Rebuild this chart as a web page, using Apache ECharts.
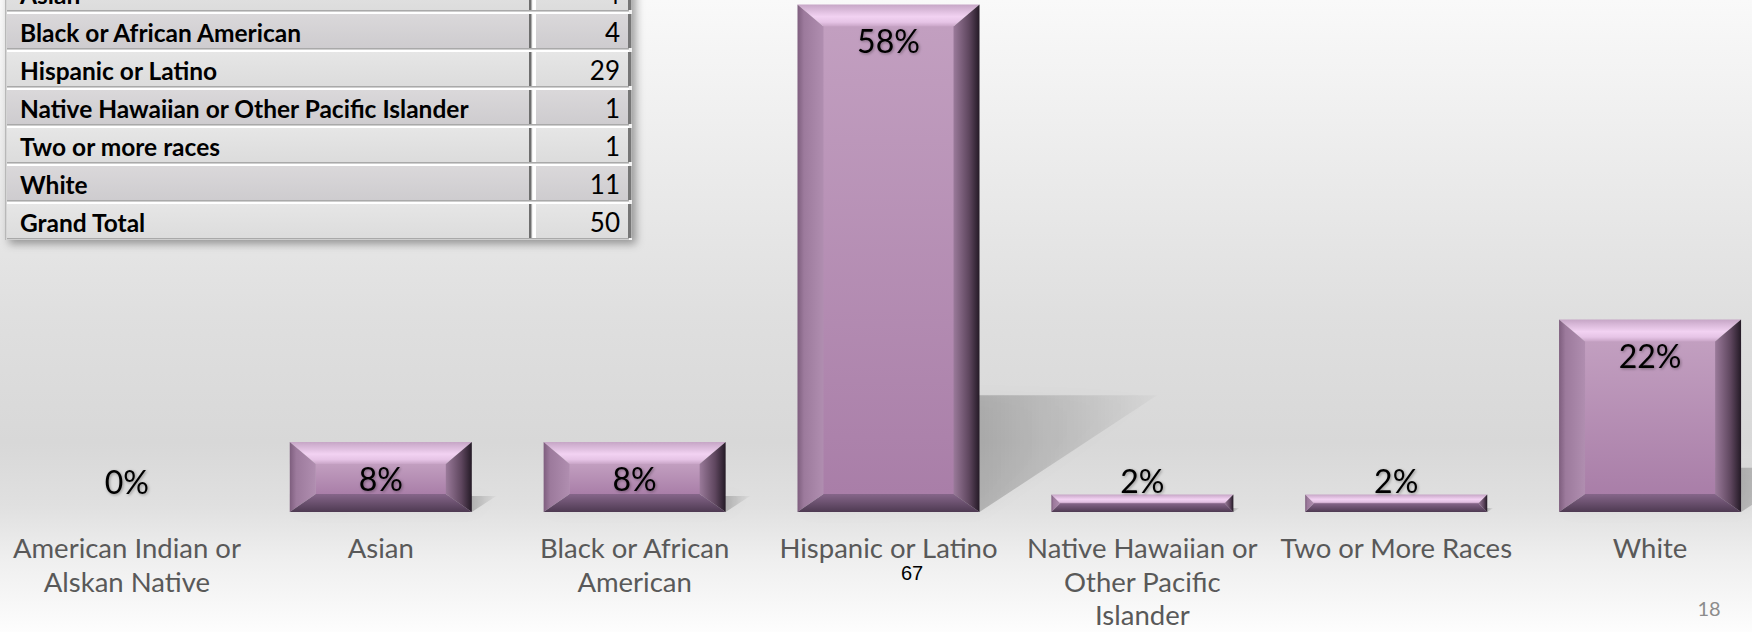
<!DOCTYPE html>
<html>
<head>
<meta charset="utf-8">
<script src="https://cdn.jsdelivr.net/npm/echarts@6/dist/echarts.min.js"></script>
<style>
  html, body { margin: 0; padding: 0; width: 1752px; height: 632px; overflow: hidden; background: #fff; }
  #main { width: 1752px; height: 632px; }
</style>
</head>
<body>
<div id="main"></div>
<script>
// Student population by race / ethnicity
const categories = [
  'American Indian or\nAlskan Native',
  'Asian',
  'Black or African\nAmerican',
  'Hispanic or Latino',
  'Native Hawaiian or\nOther Pacific\nIslander',
  'Two or More Races',
  'White'
];
const sharePct = [0, 8, 8, 58, 2, 2, 22];

// Count table shown in the upper left
const tableLabels = [
  'Asian',
  'Black or African American',
  'Hispanic or Latino',
  'Native Hawaiian or Other Pacific Islander',
  'Two or more races',
  'White',
  'Grand Total'
];
const tableCounts = [4, 4, 29, 1, 1, 11, 50];

const footNote = '67';
const pageNumber = '18';

const FONT = 'Lato, "Open Sans", "Noto Sans", sans-serif';

function lin(x, y, x2, y2, stops) {
  return { type: 'linear', x: x, y: y, x2: x2, y2: y2,
    colorStops: stops.map(s => ({ offset: s[0], color: s[1] })) };
}

// Bevelled purple bar with a cast shadow and its percentage label
function renderBar(params, api) {
  const i = api.value(0);
  const v = api.value(1);
  const top = api.coord([i, v]);
  const base = api.coord([i, 0]);
  const bw = api.size([1, 0])[0] * 0.717;
  const L = base[0] - bw / 2, R = base[0] + bw / 2;
  const B = base[1], T = top[1];
  const h = B - T;
  const kids = [];

  if (h > 0.5) {
    const sx = h * 0.35, sy = h * 0.23;
    const frac = bw / (bw + sx);
    kids.push({
      type: 'polygon',
      shape: { points: [[L, B], [R, B], [R + sx, B - sy], [L + sx, B - sy]] },
      style: {
        fill: lin(0, 0, 1, 0, [[0, 'rgba(0,0,0,0.22)'], [frac, 'rgba(0,0,0,0.2)'], [1, 'rgba(0,0,0,0.02)']]),
        shadowBlur: 16, shadowColor: 'rgba(0,0,0,0.12)'
      },
      z2: 0
    });

    const s = Math.min(26, h / 2), t = Math.min(22, h / 2), b = Math.min(18, h / 2);
    // front face
    kids.push({
      type: 'rect',
      shape: { x: L + s - 0.5, y: T + t - 0.5, width: bw - 2 * s + 1, height: Math.max(0, h - t - b) + 1 },
      style: { fill: lin(0, 0, 0, 1, [[0, '#c29fc0'], [1, '#a97ea8']]) },
      z2: 1
    });
    // top bevel
    kids.push({
      type: 'polygon',
      shape: { points: [[L, T], [R, T], [R - s, T + t], [L + s, T + t]] },
      style: { fill: lin(0, 0, 0, 1, [[0, '#c6a6c6'], [0.55, '#f2d2f2'], [0.8, '#e6c4e6'], [1, '#c9a5c7']]) },
      z2: 2
    });
    // left bevel
    kids.push({
      type: 'polygon',
      shape: { points: [[L, T], [L + s, T + t], [L + s, B - b], [L, B]] },
      style: { fill: lin(0, 0, 1, 0, [[0, '#7e5e7e'], [0.25, '#9c7a9c'], [1, '#b08eb0']]) },
      z2: 2
    });
    // right bevel
    kids.push({
      type: 'polygon',
      shape: { points: [[R, T], [R, B], [R - s, B - b], [R - s, T + t]] },
      style: { fill: lin(0, 0, 1, 0, [[0, '#9a7a9a'], [0.6, '#5e465e'], [1, '#241a26']]) },
      z2: 2
    });
    // bottom bevel
    kids.push({
      type: 'polygon',
      shape: { points: [[L, B], [L + s, B - b], [R - s, B - b], [R, B]] },
      style: { fill: lin(0, 0, 0, 1, [[0, '#86668a'], [1, '#4e3a52']]) },
      z2: 3
    });
  }

  const labelY = v >= 5 ? T + 36 : Math.min(T - 14, B - 31);
  kids.push({
    type: 'text',
    style: {
      text: v + '%', x: base[0], y: labelY,
      align: 'center', verticalAlign: 'middle',
      fontFamily: FONT, fontSize: 32, fill: '#000',
      textShadowColor: 'rgba(0,0,0,0.35)', textShadowBlur: 3, textShadowOffsetX: 1, textShadowOffsetY: 1
    },
    z2: 10
  });

  return { type: 'group', children: kids };
}

// Table graphics
const tX0 = 5, tDiv = 532, tX1 = 632, tTop = -24, rowPitch = 38, rowH = 34;
const tableEls = [];
tableEls.push({
  type: 'rect', z: 20,
  shape: { x: tX0, y: tTop - 10, width: tX1 - tX0, height: rowPitch * (tableLabels.length - 1) + rowH + 12 },
  style: { fill: '#f2f2f2', shadowBlur: 9, shadowOffsetX: 4, shadowOffsetY: 4, shadowColor: 'rgba(0,0,0,0.35)' }
});
tableLabels.forEach((lab, i) => {
  const y = tTop + i * rowPitch;
  const dark = i % 2 === 1;
  const cell = dark
    ? lin(0, 0, 0, 1, [[0, '#dad8da'], [1, '#cecccf']])
    : lin(0, 0, 0, 1, [[0, '#e6e6e6'], [1, '#dcdcdc']]);
  // label cell
  tableEls.push({ type: 'rect', z: 21, shape: { x: tX0 + 2, y: y, width: tDiv - tX0 - 4, height: rowH }, style: { fill: cell } });
  // value cell
  tableEls.push({ type: 'rect', z: 21, shape: { x: tDiv + 4, y: y, width: tX1 - tDiv - 7, height: rowH }, style: { fill: cell } });
  // highlight above, shade below
  tableEls.push({ type: 'rect', z: 22, shape: { x: tX0 + 2, y: y - 2, width: tX1 - tX0 - 5, height: 2 }, style: { fill: '#ffffff' } });
  tableEls.push({ type: 'rect', z: 22, shape: { x: tX0 + 2, y: y + rowH, width: tX1 - tX0 - 5, height: 1.5 }, style: { fill: '#a9a9a9' } });
  // column divider and right edge
  tableEls.push({ type: 'rect', z: 22, shape: { x: tDiv - 3, y: y, width: 2.5, height: rowH }, style: { fill: '#6e6e6e' } });
  tableEls.push({ type: 'rect', z: 22, shape: { x: tDiv + 1, y: y, width: 3, height: rowH }, style: { fill: '#ffffff' } });
  tableEls.push({ type: 'rect', z: 22, shape: { x: tX1 - 4, y: y, width: 3.5, height: rowH }, style: { fill: '#767676' } });
  tableEls.push({
    type: 'text', z: 23,
    style: { text: lab, x: 20, y: y + rowH / 2 + 1, verticalAlign: 'middle', align: 'left',
      fontFamily: FONT, fontWeight: 'bold', fontSize: 24.5, fill: '#000' }
  });
  tableEls.push({
    type: 'text', z: 23,
    style: { text: String(tableCounts[i]), x: 620, y: y + rowH / 2 + 1, verticalAlign: 'middle', align: 'right',
      fontFamily: FONT, fontSize: 26, fill: '#000' }
  });
});
tableEls.push({ type: 'rect', z: 22, shape: { x: tX0, y: tTop - 10, width: 1.5, height: rowPitch * (tableLabels.length - 1) + rowH + 12 }, style: { fill: '#b8b8b8' } });

const chart = echarts.init(document.getElementById('main'), null, { renderer: 'svg' });
chart.setOption({
  animation: false,
  graphic: {
    elements: [
      {
        type: 'rect', z: -10, silent: true,
        shape: { x: 0, y: 0, width: 1752, height: 632 },
        style: { fill: lin(0, 0, 0, 1, [
          [0, '#f9f9f9'], [0.25, '#ececec'], [0.5, '#dfdfdf'], [0.7, '#d8d8d8'],
          [0.8, '#e0e0e0'], [0.88, '#eeeeee'], [1, '#fdfdfd']
        ]) }
      },
      ...tableEls,
      {
        type: 'text', z: 30,
        style: { text: footNote, x: 912, y: 573, align: 'center', verticalAlign: 'middle',
          fontFamily: '"Liberation Sans", Arial, sans-serif', fontSize: 20, fill: '#000' }
      },
      {
        type: 'text', z: 30,
        style: { text: pageNumber, x: 1709, y: 608, align: 'center', verticalAlign: 'middle',
          fontFamily: FONT, fontSize: 20, fill: '#8c8c8c' }
      }
    ]
  },
  grid: { left: 0, top: -13, width: 1777, height: 525, containLabel: false, outerBoundsMode: 'none' },
  xAxis: {
    type: 'category',
    data: categories,
    axisLine: { show: false },
    axisTick: { show: false },
    axisLabel: {
      interval: 0, margin: 19,
      fontFamily: FONT, fontSize: 27.5, lineHeight: 33.5, color: '#595959'
    }
  },
  yAxis: { type: 'value', min: 0, max: 60, show: false, splitLine: { show: false } },
  series: [{
    type: 'custom',
    renderItem: renderBar,
    encode: { x: 0, y: 1 },
    data: sharePct.map((v, i) => [i, v]),
    clip: false
  }]
});
</script>
</body>
</html>
